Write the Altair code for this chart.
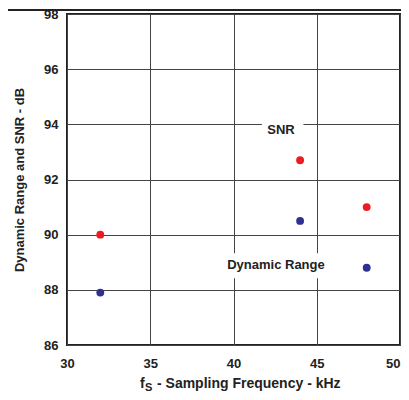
import altair as alt
import pandas as pd

# --- data ---
freq = [32, 44, 48]
snr = [90.0, 92.7, 91.0]
dyn_range = [87.9, 90.5, 88.8]
x_ticks = [30, 35, 40, 45, 50]
y_ticks = [86, 88, 90, 92, 94, 96, 98]

label_text = ["SNR", "Dynamic Range"]
label_x = [42.85, 42.55]
label_y = [93.8, 88.9]
box_x1 = [41.7, 39.2]
box_x2 = [44.2, 45.8]
box_y1 = [93.55, 88.42]
box_y2 = [94.15, 89.33]

RED = "#ed1c24"
BLUE = "#2e3192"
FONT = "Liberation Sans"

df = pd.DataFrame({
    "freq": freq * 2,
    "value": snr + dyn_range,
    "series": ["SNR"] * 3 + ["Dynamic Range"] * 3,
})
labels = pd.DataFrame({
    "text": label_text, "x": label_x, "y": label_y,
    "x1": box_x1, "x2": box_x2, "y1": box_y1, "y2": box_y2,
})

W, H = 333, 331
xs = alt.Scale(domain=[30, 50], nice=False, zero=False)
ys = alt.Scale(domain=[86, 98], nice=False, zero=False)

x_axis = alt.Axis(values=x_ticks, grid=True, ticks=False, domain=False,
                  labelFlush=False,
                  labelAlign=alt.condition("datum.value >= 50", alt.value("right"), alt.value("center")),
                  labelFont=FONT, labelFontWeight="bold", labelFontSize=13,
                  labelColor="#222", labelPadding=12, title=None)
y_axis = alt.Axis(values=y_ticks, grid=True, ticks=False, domain=False,
                  labelFlush=False,
                  labelFont=FONT, labelFontWeight="bold", labelFontSize=13,
                  labelColor="#222", labelPadding=9,
                  title="Dynamic Range and SNR - dB", titleFont=FONT,
                  titleFontWeight="bold", titleFontSize=13, titleColor="#222",
                  titlePadding=17)

points = alt.Chart(df).mark_point(filled=True, opacity=1, size=62).encode(
    x=alt.X("freq:Q", scale=xs, axis=x_axis),
    y=alt.Y("value:Q", scale=ys, axis=y_axis),
    color=alt.Color("series:N", scale=alt.Scale(domain=["SNR", "Dynamic Range"],
                                                range=[RED, BLUE]), legend=None),
)

boxes = alt.Chart(labels).mark_rect(color="white").encode(
    x=alt.X("x1:Q", scale=xs), x2="x2:Q",
    y=alt.Y("y1:Q", scale=ys), y2="y2:Q",
)

texts = alt.Chart(labels).mark_text(font=FONT, fontWeight="bold", fontSize=13,
                                    color="#222", baseline="middle").encode(
    x=alt.X("x:Q", scale=xs), y=alt.Y("y:Q", scale=ys), text="text:N",
)

one = pd.DataFrame({"k": [0]})
t_f = alt.Chart(one).mark_text(text="f", font=FONT, fontWeight="bold", fontSize=14,
                                color="#222", align="left", baseline="alphabetic").encode(
    x=alt.value(73), y=alt.value(374))
t_s = alt.Chart(one).mark_text(text="S", font=FONT, fontWeight="bold", fontSize=11,
                                color="#222", align="left", baseline="alphabetic").encode(
    x=alt.value(78), y=alt.value(377))
t_rest = alt.Chart(one).mark_text(text="- Sampling Frequency - kHz", font=FONT,
                                   fontWeight="bold", fontSize=14, color="#222",
                                   align="left", baseline="alphabetic").encode(
    x=alt.value(90), y=alt.value(374))
top_bar = alt.Chart(one).mark_rect(color="#222").encode(
    x=alt.value(-59), x2=alt.value(334), y=alt.value(-5), y2=alt.value(-3))

chart = alt.layer(boxes, points, texts, t_f, t_s, t_rest, top_bar).properties(
    width=W, height=H,
    autosize=alt.AutoSizeParams(type="none"),
    padding={"left": 59, "top": 6, "right": 1, "bottom": 47},
).configure_view(stroke="#222", strokeWidth=2).configure_axis(
    gridColor="#444", gridWidth=1, gridOpacity=1)

chart.save("out.html", embed_options={"renderer": "svg", "actions": False})
